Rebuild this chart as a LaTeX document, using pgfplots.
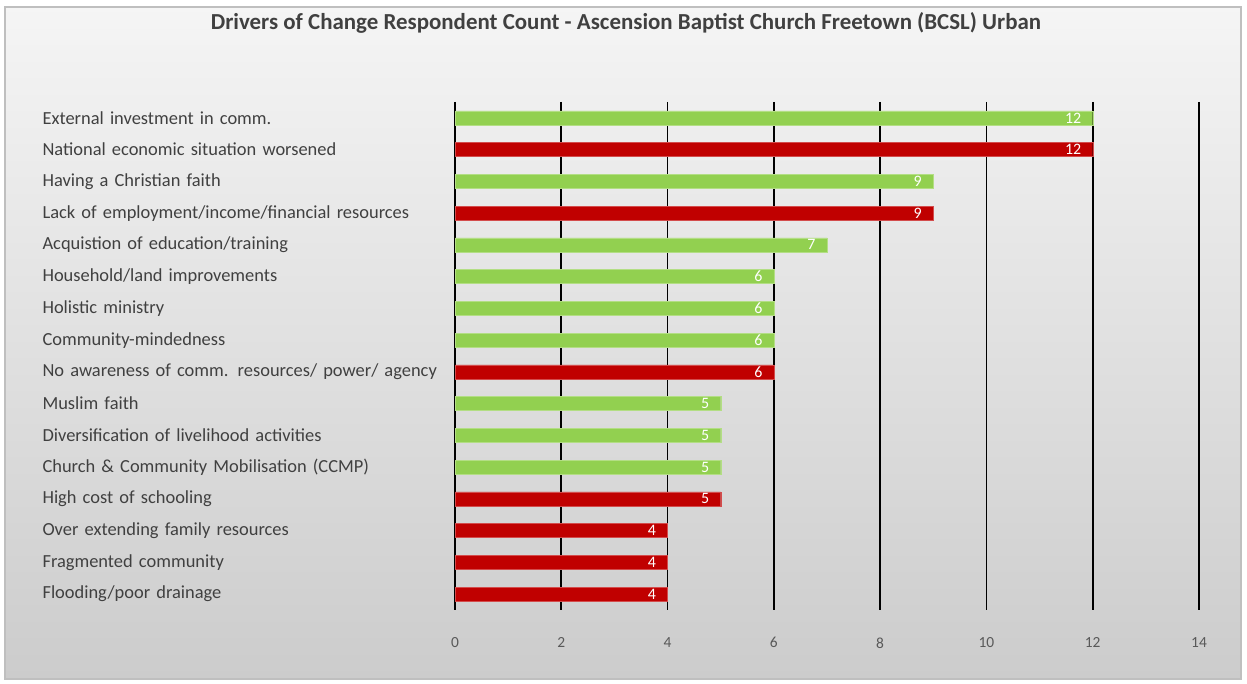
\documentclass[border=0pt]{standalone}
\usepackage{pgfplots}
\pgfplotsset{compat=1.18}
\usepackage{fontspec}
\setmainfont{Carlito}
\definecolor{bargreen}{HTML}{92D050}
\definecolor{barred}{HTML}{C00000}
\definecolor{labgray}{HTML}{404040}
\definecolor{tickgray}{HTML}{595959}
\begin{document}
\begin{tikzpicture}[x=1bp,y=1bp]
\fill[white] (0,0) rectangle (1247,684);
\shade[top color=white!96!black, bottom color=white!80!black, draw=white!75!black, line width=1.5bp] (5,5) rectangle (1241,677);
\node[font=\fontsize{23}{26}\selectfont\bfseries, text=labgray] at (626,661) {Drivers of Change Respondent Count - Ascension Baptist Church Freetown (BCSL) Urban};
\begin{axis}[
  at={(455bp,74bp)}, anchor=south west,
  scale only axis, width=744bp, height=508bp,
  xbar, bar width=0.44, bar shift=0pt,
  xmin=0, xmax=14, xtick={0,2,...,14},
  ymin=-0.5, ymax=15.5, y dir=reverse,
  ytick={0,...,15},
  yticklabels={External investment in comm., National economic situation worsened, Having a Christian faith, Lack of employment/income/financial resources, Acquistion of education/training, Household/land improvements, Holistic ministry, Community-mindedness, No awareness of comm. resources/ power/ agency, Muslim faith, Diversification of livelihood activities, Church \& Community Mobilisation (CCMP), High cost of schooling, Over extending family resources, Fragmented community, Flooding/poor drainage},
  yticklabel style={font=\fontsize{18.5}{20}\selectfont, text=labgray, text width=405bp, align=left, inner sep=0pt, xshift=-3bp},
  xticklabel style={font=\fontsize{15.5}{17}\selectfont, text=tickgray, yshift=-24bp},
  /pgf/number format/assume math mode=true,
  xmajorgrids, grid style={black, line width=1.6bp},
  axis line style={draw=none}, major tick style={draw=none},
  nodes near coords,
  nodes near coords style={anchor=east, text=white, font=\fontsize{16}{18}\selectfont, xshift=-8bp},
]
\addplot[fill=bargreen, draw=bargreen!70!white] coordinates {(12,0) (9,2) (7,4) (6,5) (6,6) (6,7) (5,9) (5,10) (5,11)};
\addplot[fill=barred, draw=barred!70!white] coordinates {(12,1) (9,3) (6,8) (5,12) (4,13) (4,14) (4,15)};
\end{axis}
\end{tikzpicture}
\end{document}
